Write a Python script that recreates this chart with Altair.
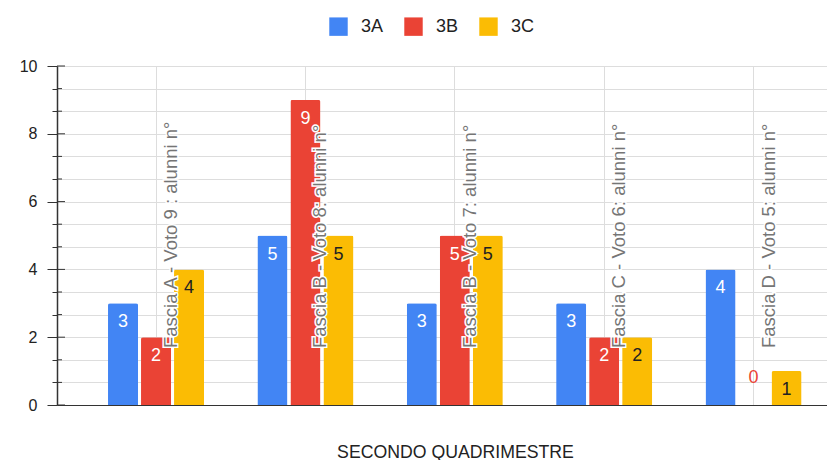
import altair as alt
import pandas as pd

categories = [
    "Fascia A - Voto 9 : alunni n°",
    "Fascia B - Voto 8: alunni n°",
    "Fascia B - Voto 7: alunni n°",
    "Fascia C - Voto 6: alunni n°",
    "Fascia D - Voto 5: alunni n°",
]
series = ["3A", "3B", "3C"]
values_3a = [3, 5, 3, 3, 4]
values_3b = [2, 9, 5, 2, 0]
values_3c = [4, 5, 5, 2, 1]
colors = ["#4285F4", "#EA4335", "#FBBC04"]
x_title = "SECONDO QUADRIMESTRE"
y_grid = [0, 0.6667, 1.3333, 2, 2.6667, 3.3333, 4, 4.6667, 5.3333, 6,
          6.6667, 7.3333, 8, 8.6667, 9.3333, 10]
y_major = [0, 2, 4, 6, 8, 10]
y_minor = [0.6667, 1.3333, 2.6667, 3.3333, 4.6667, 5.3333, 6.6667, 7.3333,
           8.6667, 9.3333]

FONT = "Liberation Sans"

rows = []
for s, vals in zip(series, [values_3a, values_3b, values_3c]):
    for c, v in zip(categories, vals):
        rows.append({"categoria": c, "serie": s, "valore": v})
df = pd.DataFrame(rows)
cat_df = pd.DataFrame({"categoria": categories})
major_df = pd.DataFrame({"valore": y_major})
minor_df = pd.DataFrame({"valore": y_minor})

x_axis = alt.Axis(
    labels=False, ticks=False, grid=True, gridColor="#dddddd",
    domainColor="#333333", domainWidth=1, bandPosition=0.5,
    title=x_title, titleFont=FONT, titleFontSize=17.7,
    titleFontWeight="normal", titleColor="#222222",
    titleX=398, titleY=47, titleBaseline="middle",
)
x_scale = alt.Scale(paddingInner=0.357, paddingOuter=0.256, align=0.667)
x_enc = alt.X("categoria:N", sort=categories, scale=x_scale, axis=x_axis)
xoff = alt.XOffset("serie:N", sort=series, scale=alt.Scale(paddingInner=0.09))

y_scale = alt.Scale(domain=[0, 10], nice=False)
y_axis = alt.Axis(
    values=y_grid, title=None, grid=True, gridColor="#dddddd",
    labelExpr="datum.value % 2 === 0 ? format(datum.value, 'd') : ''",
    labelFont=FONT, labelFontSize=16, labelColor="#222222",
    labelPadding=10, tickColor="#333333",
    tickSize={"condition": {"test": "datum.value % 2 === 0", "value": 10}, "value": 5},
    domainColor="#333333", domainWidth=1.5,
)
y_enc = alt.Y("valore:Q", scale=y_scale, axis=y_axis)
y_label = alt.YDatum(1.68, type="quantitative", scale=y_scale, axis=y_axis)

bars = alt.Chart(df).mark_bar(cornerRadiusTopLeft=2, cornerRadiusTopRight=2).encode(
    x=x_enc,
    xOffset=xoff,
    y=y_enc,
    color=alt.Color(
        "serie:N",
        scale=alt.Scale(domain=series, range=colors),
        legend=alt.Legend(
            orient="none", legendX=272, legendY=-49, direction="horizontal",
            title=None, symbolType="square", symbolSize=340,
            symbolStrokeWidth=0, labelFont=FONT, labelFontSize=18,
            labelColor="#222222", columnPadding=19, labelOffset=13,
            gridAlign="all",
        ),
    ),
)

label_props = dict(angle=270, align="left", baseline="middle", dy=15,
                   fontSize=18.5, font=FONT)
halo = alt.Chart(cat_df).mark_text(
    stroke="white", strokeWidth=3, fill="white", **label_props
).encode(x=x_enc, y=y_label, text="categoria:N")
cat_labels = alt.Chart(cat_df).mark_text(
    fill="#757575", **label_props
).encode(x=x_enc, y=y_label, text="categoria:N")

val_labels = alt.Chart(df).transform_filter("datum.valore > 0").mark_text(
    baseline="middle", dy=19, fontSize=18, font=FONT
).encode(
    x=x_enc, xOffset=xoff,
    y=y_enc,
    text="valore:Q",
    color=alt.condition("datum.serie === '3C'", alt.value("#222222"), alt.value("white")),
)
zero_labels = alt.Chart(df).transform_filter("datum.valore == 0").mark_text(
    baseline="middle", dy=-27, fontSize=18, font=FONT, color="#EA4335"
).encode(
    x=x_enc, xOffset=xoff,
    y=y_enc,
    text="valore:Q",
)

major_in = alt.Chart(major_df).mark_rule(color="#333333", strokeWidth=1).encode(
    y=y_enc, x=alt.value(0), x2=alt.value(8)
)
minor_in = alt.Chart(minor_df).mark_rule(color="#333333", strokeWidth=1).encode(
    y=y_enc, x=alt.value(0), x2=alt.value(5)
)

chart = alt.layer(bars, halo, cat_labels, val_labels, zero_labels, major_in, minor_in).properties(
    width=770, height=339,
    padding={"left": 11, "top": 9, "right": 0, "bottom": 0},
).configure_view(stroke=None).configure(background="white")

chart.save("out.html", embed_options={"renderer": "svg", "actions": False})
